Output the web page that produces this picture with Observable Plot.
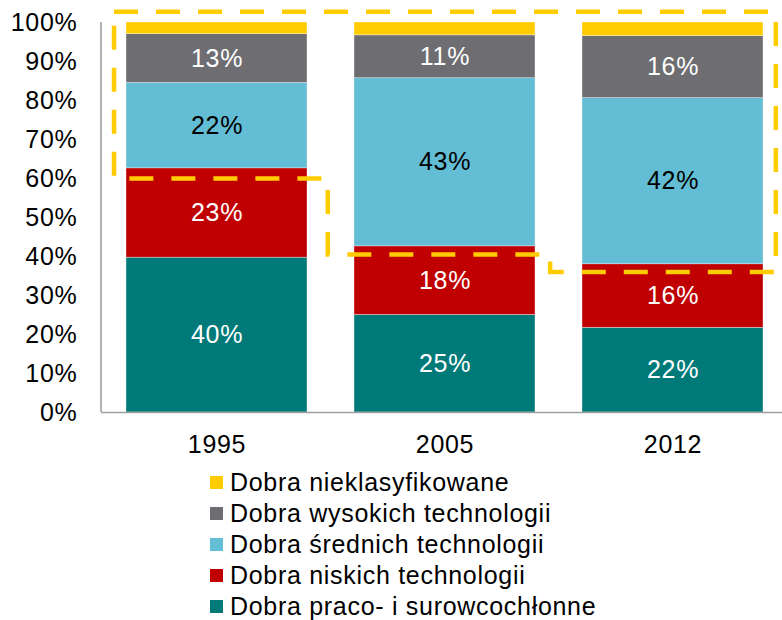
<!DOCTYPE html>
<html>
<head>
<meta charset="utf-8">
<script src="https://cdn.jsdelivr.net/npm/d3@7"></script>
<script src="https://cdn.jsdelivr.net/npm/@observablehq/plot@0.6"></script>
<style>
  body { margin: 0; background: #fff; font-family: "Liberation Sans", Arial, sans-serif; }
  #wrap { position: relative; width: 782px; height: 620px; }
  .lg { position: absolute; left: 210px; height: 31px; display: flex; align-items: center; font-size: 25px; letter-spacing: 0.7px; color: #000; white-space: nowrap; }
  .sw { width: 13px; height: 13px; margin-right: 7px; flex: none; }
  svg text { letter-spacing: 0.7px; }
</style>
</head>
<body>
<div id="wrap"></div>
<script>
const years = ["1995", "2005", "2012"];
const seriesNames = [
  "Dobra praco- i surowcochłonne",
  "Dobra niskich technologii",
  "Dobra średnich technologii",
  "Dobra wysokich technologii",
  "Dobra nieklasyfikowane"
];
const seriesColors = ["#007A78", "#C00000", "#63BDD4", "#6E6D71", "#FFCC00"];

const praco = [39.7, 25.0, 21.7];
const niskich = [22.9, 17.6, 16.3];
const srednich = [21.9, 43.1, 42.6];
const wysokich = [12.5, 11.0, 15.9];
const nieklas = [3.0, 3.3, 3.5];

const pracoLabels = ["40%", "25%", "22%"];
const niskichLabels = ["23%", "18%", "16%"];
const srednichLabels = ["22%", "43%", "42%"];
const wysokichLabels = ["13%", "11%", "16%"];
const nieklasLabels = ["", "", ""];

const yTicks = [0, 10, 20, 30, 40, 50, 60, 70, 80, 90, 100];

// dashed highlight outline: [year, fraction of bar width, y percent]
const outline = [
  ["1995", -0.066, 102.6],
  ["2012", 1.071, 102.6],
  ["2012", 1.071, 35.9],
  ["2012", -0.176, 35.9],
  ["2012", -0.176, 40.4],
  ["1995", 1.115, 40.4],
  ["1995", 1.115, 59.9],
  ["1995", -0.066, 59.9],
  ["1995", -0.066, 102.6]
];

const allValues = [praco, niskich, srednich, wysokich, nieklas];
const allLabels = [pracoLabels, niskichLabels, srednichLabels, wysokichLabels, nieklasLabels];
const rows = [];
seriesNames.forEach((s, i) => {
  years.forEach((y, j) => {
    rows.push({year: y, series: s, value: allValues[i][j], label: allLabels[i][j]});
  });
});

const darkText = "Dobra średnich technologii";

const plot = Plot.plot({
  width: 782,
  height: 460,
  marginLeft: 101,
  marginRight: 0,
  marginTop: 22,
  marginBottom: 48,
  style: {fontFamily: "'Liberation Sans', Arial, sans-serif", fontSize: "25px", color: "#000", background: "#fff"},
  x: {domain: years, paddingInner: 0.205, paddingOuter: 0.092, align: 0.57, label: null},
  y: {domain: [0, 100], label: null},
  color: {domain: seriesNames, range: seriesColors},
  marks: [
    Plot.barY(rows, {x: "year", y: "value", fill: "series", stroke: "#ffffff", strokeWidth: 0.6, strokeOpacity: 0.6}),
    Plot.text(rows, Plot.stackY({x: "year", y: "value", text: d => d.series === darkText ? "" : d.label, fill: "#ffffff", fontSize: 25})),
    Plot.text(rows, Plot.stackY({x: "year", y: "value", text: d => d.series === darkText ? d.label : "", fill: "#000000", fontSize: 25})),
    Plot.ruleY([0], {stroke: "#a0a0a0", strokeWidth: 1.6}),
    Plot.axisY({ticks: yTicks, tickFormat: d => d + "%", tickSize: 0, tickPadding: 24, fontSize: 25, label: null}),
    Plot.axisX({tickSize: 0, tickPadding: 23, fontSize: 25, label: null})
  ]
});

const xs = plot.scale("x");
const ys = plot.scale("y");
const svg = d3.select(plot);

svg.append("line")
  .attr("x1", 101).attr("x2", 101)
  .attr("y1", ys.apply(100)).attr("y2", ys.apply(0))
  .attr("stroke", "#a0a0a0").attr("stroke-width", 1.6);

const line = d3.line()
  .x(d => xs.apply(d[0]) + d[1] * xs.bandwidth)
  .y(d => ys.apply(d[2]));

svg.append("path")
  .attr("d", line(outline))
  .attr("fill", "none")
  .attr("stroke", "#FFCC00")
  .attr("stroke-width", 4.5)
  .attr("stroke-dasharray", "24,18");

const wrap = document.getElementById("wrap");
wrap.appendChild(plot);

// legend below the chart
const legendOrder = [4, 3, 2, 1, 0];
legendOrder.forEach((i, k) => {
  const row = document.createElement("div");
  row.className = "lg";
  row.style.top = (467 + k * 31) + "px";
  const sw = document.createElement("span");
  sw.className = "sw";
  sw.style.background = seriesColors[i];
  const tx = document.createElement("span");
  tx.textContent = seriesNames[i];
  row.appendChild(sw);
  row.appendChild(tx);
  wrap.appendChild(row);
});
plot.style.position = "absolute";
plot.style.left = "0px";
plot.style.top = "0px";
</script>
</body>
</html>
